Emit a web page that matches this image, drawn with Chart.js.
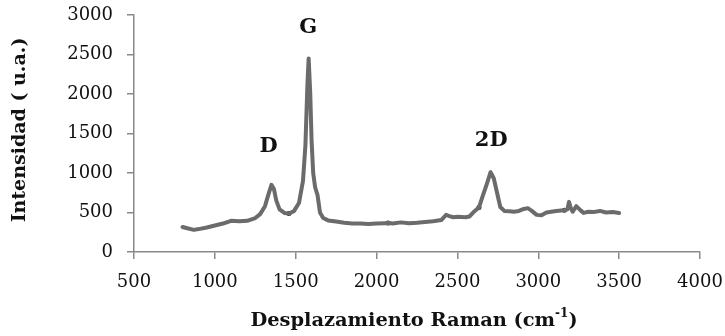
<!DOCTYPE html>
<html>
<head>
<meta charset="utf-8">
<script src="https://cdn.jsdelivr.net/npm/chart.js@4.4.1/dist/chart.umd.min.js"></script>
<style>
  html, body { margin: 0; padding: 0; background: #fff; }
  #wrap { width: 725px; height: 336px; position: relative; }
</style>
</head>
<body>
<div id="wrap"><canvas id="raman"></canvas></div>
<script>
// --- Espectro Raman (desplazamiento cm-1 / intensidad u.a.) ---
const desplazamiento = [
  800, 830, 870, 900, 950, 1000, 1050, 1100, 1150, 1200, 1250, 1280, 1310, 1330, 1350, 1365,
  1380, 1400, 1430, 1460, 1490, 1520, 1545, 1560, 1572, 1580, 1590, 1598, 1608, 1620, 1635,
  1650, 1670, 1700, 1750, 1800, 1850, 1900, 1950, 2000, 2050, 2071, 2100, 2150, 2200, 2250,
  2300, 2350, 2400, 2430, 2450, 2475, 2500, 2550, 2575, 2600, 2633, 2655, 2680, 2705, 2725,
  2745, 2765, 2790, 2820, 2850, 2880, 2910, 2935, 2960, 2990, 3020, 3050, 3080, 3110, 3140,
  3161, 3180, 3190, 3200, 3213, 3235, 3260, 3280, 3310, 3340, 3380, 3420, 3460, 3500
];
const intensidad = [
  317, 300, 280, 290, 310, 335, 360, 395, 390, 395, 430, 480, 580, 720, 850, 800,
  650, 540, 495, 487, 520, 620, 900, 1350, 2100, 2450, 2000, 1420, 1000, 820, 720,
  500, 430, 400, 385, 370, 360, 360, 355, 360, 365, 368, 360, 375, 365, 370,
  380, 390, 405, 470, 455, 440, 445, 440, 450, 505, 563, 700, 850, 1010, 930,
  750, 570, 520, 515, 510, 520, 545, 555, 520, 470, 465, 500, 510, 520, 525,
  529, 540, 635, 560, 510, 580, 530, 495, 510, 505, 520, 500, 505, 495
];
// puntos marcados sobre la curva
const marcasX = [1458, 2071, 2633, 3161];
const marcasY = [487, 368, 563, 529];

// etiquetas de bandas
const bandas = ['D', 'G', '2D'];
const bandasX = [1333, 1577, 2709];
const bandasY = [1332, 2835, 1409];

const ejeX = { min: 500, max: 4000, paso: 500 };
const ejeY = { min: 0, max: 3000, paso: 500 };

const SERIF = '"DejaVu Serif", "Liberation Serif", serif';
const GRIS_EJE = '#898989';

// --- Textos fijos: titulos de ejes y etiquetas de bandas ---
const textos = {
  id: 'textos',
  afterDraw(chart) {
    const ctx = chart.ctx;
    const { x, y } = chart.scales;
    ctx.save();
    ctx.fillStyle = '#111';
    ctx.textBaseline = 'middle';

    // bandas
    ctx.font = 'bold 21px ' + SERIF;
    ctx.textAlign = 'center';
    bandas.forEach((b, i) => {
      ctx.fillText(b, x.getPixelForValue(bandasX[i]), y.getPixelForValue(bandasY[i]));
    });

    // titulo eje X con superindice
    const area = chart.chartArea;
    const cx = (area.left + area.right) / 2 - 3;
    const base = 'Desplazamiento Raman (cm';
    const sup = '-1';
    const fin = ')';
    ctx.font = 'bold 19.4px ' + SERIF;
    const wBase = ctx.measureText(base).width;
    const wFin = ctx.measureText(fin).width;
    ctx.font = 'bold 12px ' + SERIF;
    const wSup = ctx.measureText(sup).width;
    let px = cx - (wBase + wSup + wFin) / 2;
    const py = 321;
    ctx.textAlign = 'left';
    ctx.font = 'bold 19.4px ' + SERIF;
    ctx.fillText(base, px, py);
    px += wBase;
    ctx.font = 'bold 12px ' + SERIF;
    ctx.fillText(sup, px, py - 7);
    px += wSup;
    ctx.font = 'bold 19.4px ' + SERIF;
    ctx.fillText(fin, px, py);

    // titulo eje Y
    ctx.font = 'bold 19px ' + SERIF;
    ctx.translate(20, 130);
    ctx.rotate(-Math.PI / 2);
    ctx.textAlign = 'center';
    ctx.fillText('Intensidad ( u.a.)', 0, 0);
    ctx.restore();
  }
};

new Chart(document.getElementById('raman'), {
  type: 'line',
  data: {
    datasets: [
      {
        label: 'Espectro',
        data: desplazamiento.map((v, i) => ({ x: v, y: intensidad[i] })),
        borderColor: '#6b6b6b',
        borderWidth: 4,
        pointRadius: 0,
        tension: 0,
        borderJoinStyle: 'round',
        borderCapStyle: 'round'
      },
      {
        label: 'Marcas',
        type: 'scatter',
        data: marcasX.map((v, i) => ({ x: v, y: marcasY[i] })),
        pointRadius: 2.5,
        pointBackgroundColor: '#262626',
        pointBorderWidth: 0
      }
    ]
  },
  options: {
    responsive: true,
    maintainAspectRatio: false,
    animation: false,
    layout: { padding: { left: 0, right: 25, top: 15, bottom: 0 } },
    plugins: { legend: { display: false }, tooltip: { enabled: false } },
    scales: {
      x: {
        type: 'linear',
        min: ejeX.min, max: ejeX.max,
        ticks: { stepSize: ejeX.paso, color: '#111', font: { family: SERIF, size: 18 }, padding: 13, maxRotation: 0,
                 callback: v => String(v) },
        grid: { drawOnChartArea: false, tickLength: 7, color: GRIS_EJE, lineWidth: 1.5 },
        border: { color: GRIS_EJE, width: 1.5 },
        afterFit: s => { s.height = 84; s.paddingLeft = 0; s.paddingRight = 0; }
      },
      y: {
        min: ejeY.min, max: ejeY.max,
        ticks: { stepSize: ejeY.paso, color: '#111', font: { family: SERIF, size: 18 }, padding: 14,
                 callback: v => String(v) },
        grid: { drawOnChartArea: false, tickLength: 7, color: GRIS_EJE, lineWidth: 1.5 },
        border: { color: GRIS_EJE, width: 1.5 },
        afterFit: s => { s.width = 134; s.paddingTop = 0; s.paddingBottom = 0; }
      }
    }
  },
  plugins: [textos]
});
</script>
</body>
</html>
